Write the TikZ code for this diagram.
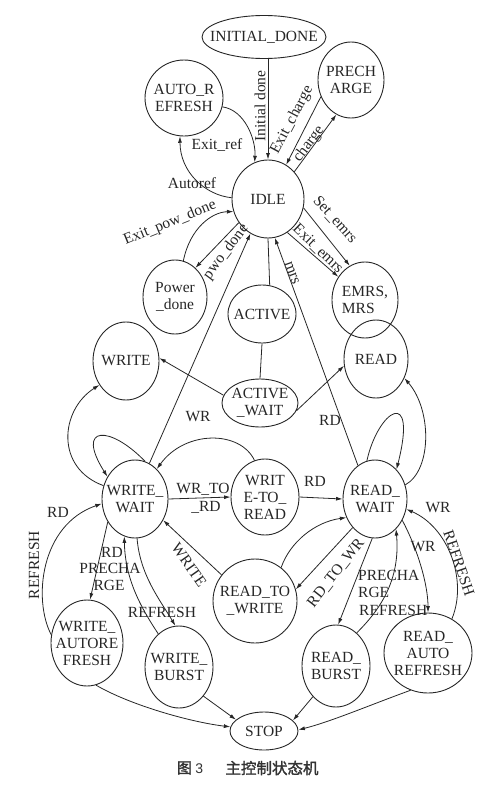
\documentclass[tikz,border=0pt]{standalone}
\usepackage{fontspec}
\setmainfont{Liberation Serif}
\newfontfamily\cjkfont[FakeBold=1.6]{Noto Sans CJK SC}
\newfontfamily\capdigit{Liberation Sans}
\usetikzlibrary{shapes.geometric, arrows.meta}
\begin{document}
\begin{tikzpicture}[x=1pt,y=-1pt,
  st/.style={draw=black!85, ellipse, line width=0.9pt, inner sep=0pt},
  stt/.style={align=center, inner sep=0pt, font=\fontsize{15.5}{17}\selectfont, text=black!85},
  lbl/.style={inner sep=0pt, font=\fontsize{15.5}{17}\selectfont, text=black!85},
  ar/.style={-{Latex[length=6.5pt,width=4pt]}, line width=0.8pt, draw=black!85},
  ln/.style={line width=0.8pt, draw=black!85}]

\useasboundingbox (0,0) rectangle (500,787);

% states
\node[st, minimum width=124pt, minimum height=43pt, label={[stt]center:INITIAL\_DONE}] (init) at (264,37) {};
\node[st, minimum width=78pt, minimum height=76pt, label={[stt]center:AUTO\_R\\EFRESH}] (autoref) at (184,98) {};
\node[st, minimum width=66pt, minimum height=76pt, label={[stt]center:PRECH\\ARGE}] (prech) at (351,80) {};
\node[st, minimum width=72pt, minimum height=78pt, label={[stt]center:IDLE}] (idle) at (268,199) {};
\node[st, minimum width=64pt, minimum height=74pt, label={[stt]center:Power\\\_done}] (pow) at (175,297) {};
\node[st, minimum width=68pt, minimum height=58pt, label={[stt]center:ACTIVE}] (active) at (262,314) {};
\node[st, minimum width=76pt, minimum height=48pt, label={[stt]center:ACTIVE\\\_WAIT}] (actwait) at (260,403) {};
\node[st, minimum width=66pt, minimum height=76pt, label={[stt,align=left]center:{EMRS,\\MRS}}] (emrs) at (365,300) {};
\node[st, minimum width=66pt, minimum height=78pt, label={[stt]center:WRITE}] (write) at (126,361) {};
\node[st, minimum width=64pt, minimum height=78pt, label={[stt]center:READ}] (read) at (376,359) {};
\node[st, minimum width=66pt, minimum height=78pt, label={[stt]center:WRITE\_\\WAIT}] (ww) at (135,499) {};
\node[st, minimum width=68pt, minimum height=76pt, label={[stt]center:WRIT\\E-TO\_\\READ}] (wtr) at (265,497) {};
\node[st, minimum width=64pt, minimum height=78pt, label={[stt]center:READ\_\\WAIT}] (rw) at (375,499) {};
\node[st, minimum width=84pt, minimum height=84pt, label={[stt]center:READ\_TO\\\_WRITE}] (rtw) at (255,601) {};
\node[st, minimum width=72pt, minimum height=86pt, label={[stt]center:WRITE\_\\AUTORE\\FRESH}] (wa) at (87,643) {};
\node[st, minimum width=68pt, minimum height=82pt, label={[stt]center:WRITE\_\\BURST}] (wb) at (179,667) {};
\node[st, minimum width=68pt, minimum height=82pt, label={[stt]center:READ\_\\BURST}] (rb) at (336,666) {};
\node[st, minimum width=88pt, minimum height=80pt, label={[stt]center:READ\_\\AUTO\\REFRESH}] (ra) at (428,653) {};
\node[st, minimum width=68pt, minimum height=38pt, label={[stt]center:STOP}] (stop) at (264,731) {};

% connectors
\draw[ar] (init.south -| idle.north) -- (idle.north);
\draw[ar] (autoref.-13) .. controls (245,110) and (256,140) .. (idle.110);
\draw[ar] (idle.178) .. controls (205,195) and (180,172) .. (autoref.-96);
\draw[ar] (idle.46) -- (prech.-113);
\draw[ar] (prech.-151) -- (idle.62);
\draw[ar] (idle.-141) -- (pow.55);
\draw[ar] (pow.77) .. controls (190,228) and (212,212) .. (idle.-160);
\draw[ar] (idle.-14) -- (emrs.114);
\draw[ar] (idle.-60) -- (emrs.139);
\draw[ar] (rw.117) -- (idle.-80);
\draw[ln] (idle.south) -- (active.75);
\draw[ln] (active.south) -- (actwait.north);
\draw[ar] (actwait.168) -- (write.5);
\draw[ar] (actwait.-12) -- (read.-168);
\draw[ar] (ww.68) -- (idle.-117);
\draw[ar] (ww.157) .. controls (55,468) and (60,410) .. (write.222);
\draw[ar] (ww.75) .. controls (110,425) and (75,425) .. (ww.141);
\draw[ar] (ww.east) -- (wtr.west);
\draw[ar] (wtr.east) -- (rw.west);
\draw[ar] (wtr.106) .. controls (240,430) and (185,430) .. (ww.54);
\draw[ar] (rtw.52) .. controls (290,542) and (315,522) .. (rw.213);
\draw[ar] (rw.232) -- (rtw.16);
\draw[ar] (rtw.142) -- (ww.-37);
\draw[ar] (ww.220) -- (wa.86);
\draw[ar] (wb.122) .. controls (137,602) and (125,575) .. (ww.-106);
\draw[ar] (ww.-87) .. controls (140,575) and (160,600) .. (wb.95);
\draw[ar] (wa.167) .. controls (33,600) and (40,525) .. (ww.188);
\draw[ar] (wa.-78) .. controls (130,705) and (190,722) .. (stop.173);
\draw[ar] (wb.-50) -- (stop.158);
\draw[ar] (rb.-127) -- (stop.20);
\draw[ar] (ra.-115) .. controls (370,705) and (330,722) .. (stop.2);
\draw[ar] (rw.-94) -- (rb.87);
\draw[ar] (rb.58) .. controls (385,605) and (400,575) .. (rw.-55);
\draw[ar] (rw.-38) .. controls (418,550) and (428,585) .. (ra.90);
\draw[ar] (ra.55) .. controls (468,580) and (448,527) .. (rw.-18);
\draw[ar] (rw.25) .. controls (432,470) and (432,410) .. (read.-34);
\draw[ar] (rw.102) .. controls (378,410) and (418,385) .. (rw.54);

% connector labels
\node[lbl, rotate=90] (lInit) at (260,106) {Initial done};
\node[lbl] (lExitref) at (217,145) {Exit\_ref};
\node[lbl] (lAutoref) at (192,183) {Autoref};
\node[lbl, rotate=62] (lExitcharge) at (292,120) {Exit\_charge};
\node[lbl, rotate=53] (lcharge) at (309,144) {charge};
\node[lbl, rotate=22] (lExitpow) at (170,223) {Exit\_pow\_done};
\node[lbl, rotate=53] (lpwo) at (226,252) {pwo\_done};
\node[lbl, rotate=-48] (lSetemrs) at (335,220) {Set\_emrs};
\node[lbl, rotate=-44] (lExitemrs) at (318,249) {Exit\_emrs};
\node[lbl, rotate=-70] (lmrs) at (292,273) {mrs};
\node[lbl] (lRDa) at (330,420) {RD};
\node[lbl] (lWRa) at (198,417) {WR};
\node[lbl] (lWRTO) at (203,489) {WR\_TO};
\node[lbl] (lRDTO) at (206,507) {\_RD};
\node[lbl] (lRDb) at (315,481) {RD};
\node[lbl, rotate=52] (lRTW) at (336,573) {RD\_TO\_WR};
\node[lbl, rotate=-55] (lWRITE) at (189,565) {WRITE};
\node[lbl] (lRDc) at (112,552) {RD};
\node[lbl] (lPREa) at (110,568) {PRECHA};
\node[lbl] (lRGEa) at (109,585) {RGE};
\node[lbl] (lREFa) at (162,612) {REFRESH};
\node[lbl] (lRDd) at (58,512) {RD};
\node[lbl, rotate=90] (lREFb) at (34,565) {REFRESH};
\node[lbl, anchor=west] (lPREb) at (358,575) {PRECHA};
\node[lbl, anchor=west] (lRGEb) at (358,592) {RGE};
\node[lbl, anchor=west] (lREFc) at (359,610) {REFRESH};
\node[lbl] (lWRb) at (423,547) {WR};
\node[lbl] (lWRc) at (438,508) {WR};
\node[lbl, rotate=-71] (lREFd) at (459,563) {REFRESH};

% caption
\node[inner sep=0pt, text=black!80] (cap1) at (190,768) {{\cjkfont\fontsize{15}{15}\selectfont 图}\,\,{\capdigit\fontsize{14}{14}\selectfont 3}};
\node[inner sep=0pt, text=black!80, font=\cjkfont\fontsize{15.5}{15.5}\selectfont] (cap2) at (272,768) {主控制状态机};
\end{tikzpicture}
\end{document}
